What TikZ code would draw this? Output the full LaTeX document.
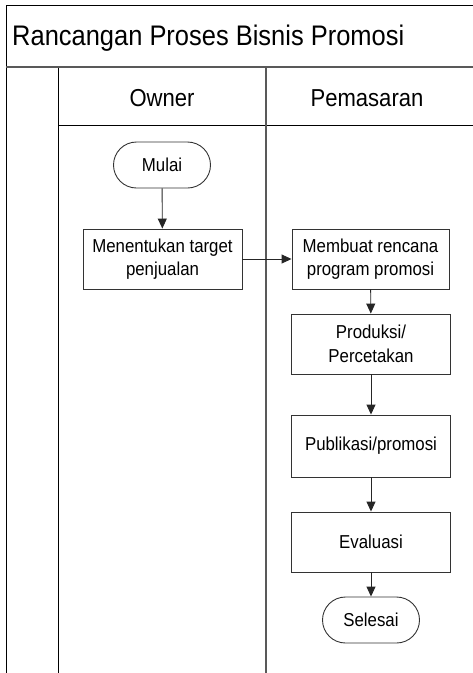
\documentclass[tikz,border=0pt]{standalone}
\usepackage{fontspec}
\setsansfont{Liberation Sans}[FakeStretch=0.9]
\usetikzlibrary{arrows.meta}

\begin{document}
\begin{tikzpicture}[
        x=1pt, y=-1pt,
        font=\sffamily,
        >={Triangle[length=10pt, width=9pt]},
        lane/.style={black, line width=1pt},
        lanebold/.style={black!65, line width=2.2pt},
        header/.style={inner sep=0pt, font=\sffamily\fontsize{24.5}{28}\selectfont},
        process/.style={draw=black!80, line width=0.9pt, minimum width=159pt, minimum height=60pt,
            align=center, inner sep=2pt, font=\sffamily\fontsize{18.7}{23.5}\selectfont},
        terminal/.style={process, minimum width=97pt, minimum height=46pt, rounded corners=23pt},
        flow/.style={->, black!85, line width=0.9pt}
    ]

        % Page size and crop
        \useasboundingbox (0,0) rectangle (473,673);
        \clip (0,0) rectangle (473,673);

        % Swimlane frame
        \draw[lane] (480,5) -- (6,5) -- (6,680);
        \draw[lane] (58,125) -- (480,125);
        \draw[lane] (58,67) -- (58,680);
        \draw[lanebold] (6,67) -- (480,67);
        \draw[lanebold] (266,67) -- (266,680);

        % Title and lane headers
        \node[anchor=base west, inner sep=0pt, font=\sffamily\fontsize{28.3}{32}\selectfont] (judul) at (12,45) {Rancangan Proses Bisnis Promosi};
        \node[header] (owner) at (162,98) {Owner};
        \node[header] (pemasaran) at (367,98) {Pemasaran};

        % Owner lane
        \node[terminal] (mulai) at (162,165) {Mulai};
        \node[process] (target) at (162.5,259) {Menentukan target\\penjualan};

        % Pemasaran lane
        \node[process, minimum width=157pt] (rencana) at (370.5,259) {Membuat rencana\\program promosi};
        \node[process] (produksi) at (371,344) {Produksi/\\Percetakan};
        \node[process, minimum height=62pt] (publikasi) at (371,446) {Publikasi/promosi};
        \node[process] (evaluasi) at (371,542) {Evaluasi};
        \node[terminal] (selesai) at (371,620) {Selesai};

        % Connectors
        \draw[flow] (mulai) -- (target);
        \draw[flow] (target) -- (rencana);
        \foreach \a/\b in {rencana/produksi, produksi/publikasi, publikasi/evaluasi, evaluasi/selesai} {
            \draw[flow] (\a) -- (\b);
        }

    \end{tikzpicture}
\end{document}
